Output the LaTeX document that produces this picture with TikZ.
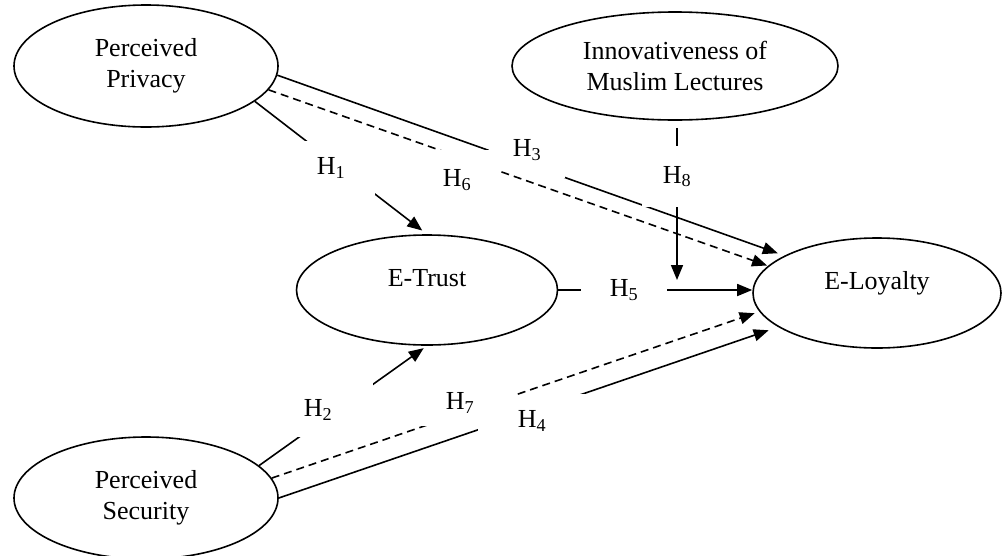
\documentclass[tikz,border=0pt]{standalone}
\usepackage{fontspec}
\setmainfont{Liberation Serif}
\usetikzlibrary{shapes.geometric,arrows.meta}

\tikzset{
  construct/.style={draw, ellipse, line width=1.6pt, inner sep=0pt, align=center},
  oneline/.style={text height=18pt, text depth=25pt},
  hyp/.style={fill=white, inner sep=0pt},
  hpath/.style={line width=1.6pt, -{Triangle[length=15pt,width=12pt]}},
  dashedline/.style={dash pattern=on 8pt off 5pt},
}

\begin{document}
\begin{tikzpicture}[x=1pt, y=-1pt, font=\fontsize{26}{31}\selectfont]
\useasboundingbox (0,0) rectangle (1003,555);

\node[construct, minimum width=264pt, minimum height=122pt] (pp) at (146,66) {Perceived\\Privacy};
\node[construct, minimum width=326pt, minimum height=108pt] (iml) at (675,66) {Innovativeness of\\Muslim Lectures};
\node[construct, oneline, minimum width=261pt, minimum height=110pt] (et) at (427,290) {E-Trust};
\node[construct, oneline, minimum width=248pt, minimum height=110pt] (el) at (877,293) {E-Loyalty};
\node[construct, minimum width=264pt, minimum height=122pt] (ps) at (146,498) {Perceived\\Security};
\coordinate (mod) at (677,280);

% direct paths
\draw[hpath, shorten >=6pt] (pp.-18) -- (et.north);
\draw[hpath, shorten >=4pt] (ps.16) -- (et.south);
\draw[hpath, shorten >=7pt] (pp.-4) -- (el.158);
\draw[hpath, shorten >=10pt] (ps.east) -- (el.199);
\draw[hpath] (et.east) -- (et.east -| el.west);
\draw[hpath, shorten <=7pt] (iml.south -| mod) -- (mod);

\node[hyp, minimum width=88pt, minimum height=54pt] (h1) at (331,168) {H\textsubscript{1}};
\node[hyp, minimum width=110pt, minimum height=54pt] (h2) at (318,410) {H\textsubscript{2}};
\node[hyp, minimum width=76pt, minimum height=56pt] (h3) at (527,150) {H\textsubscript{3}};
\node[hyp, minimum width=108pt, minimum height=54pt] (h4) at (532,421) {H\textsubscript{4}};
\node[hyp, minimum width=86pt, minimum height=30pt] (h5) at (624,290) {H\textsubscript{5}};
\node[hyp, minimum width=70pt, minimum height=61pt] (h8) at (677,176.5) {H\textsubscript{8}};

% mediated paths
\draw[hpath, dashedline, shorten >=1pt] (pp.-11) -- (el.166);
\draw[hpath, dashedline, shorten >=5pt] (ps.9) -- (el.189);

\node[hyp, minimum width=86pt, minimum height=60pt] (h6) at (457,180) {H\textsubscript{6}};
\node[hyp, minimum width=114pt, minimum height=45pt] (h7) at (460,403) {H\textsubscript{7}};

\end{tikzpicture}
\end{document}
